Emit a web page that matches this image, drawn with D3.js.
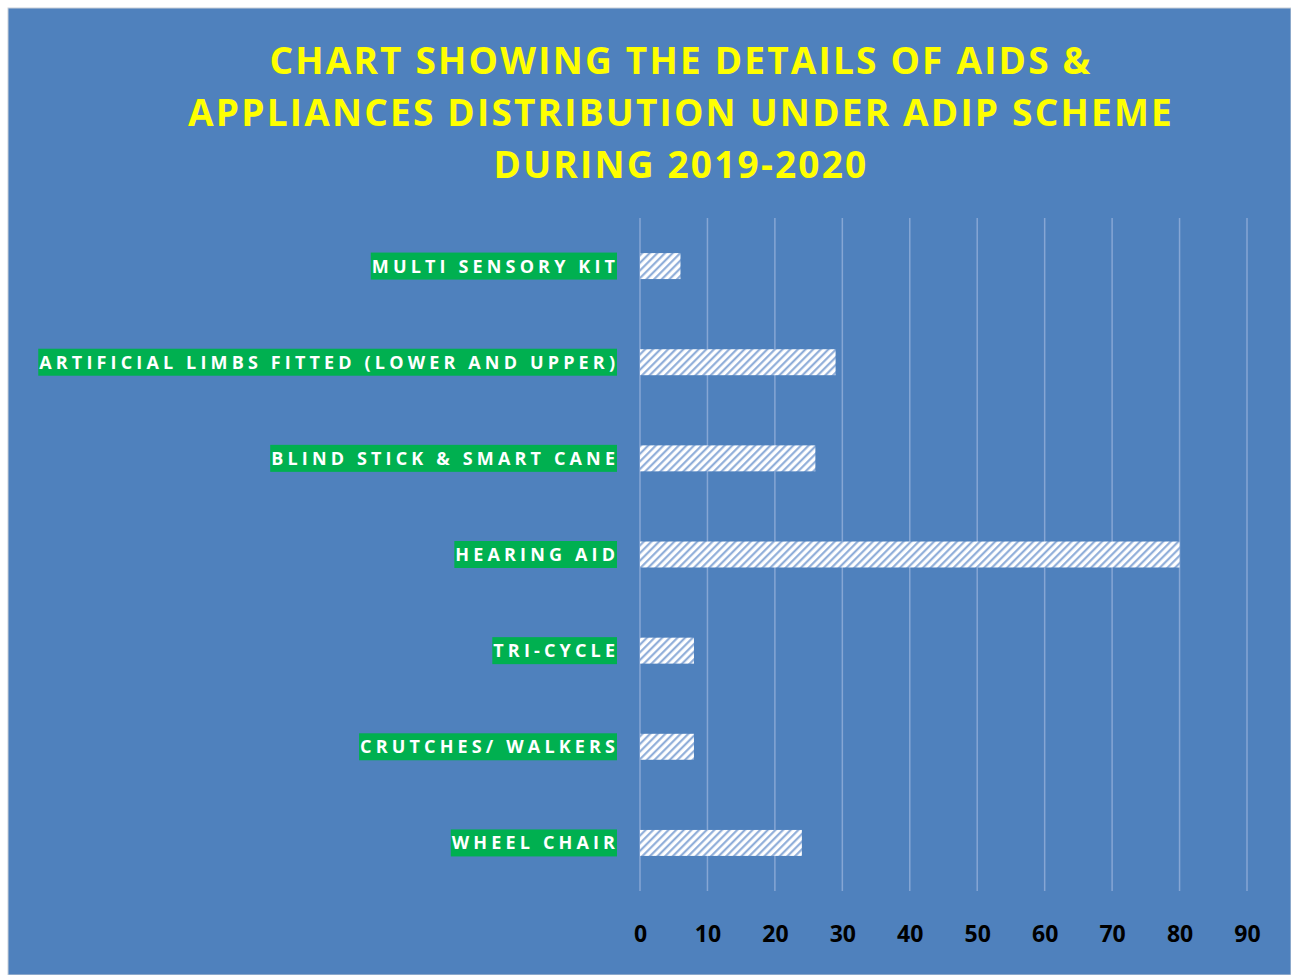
<!DOCTYPE html>
<html>
<head>
<meta charset="utf-8">
<script src="https://cdn.jsdelivr.net/npm/d3@7"></script>
<style>
  html, body { margin: 0; padding: 0; background: #ffffff; }
  svg { display: block; }
</style>
</head>
<body>
<svg id="chart" width="1291" height="975"></svg>
<script>
// ---- data ----
const categories = [
  "MULTI SENSORY KIT",
  "ARTIFICIAL LIMBS FITTED (LOWER AND UPPER)",
  "BLIND STICK & SMART CANE",
  "HEARING AID",
  "TRI-CYCLE",
  "CRUTCHES/ WALKERS",
  "WHEEL CHAIR"
];
const values = [6, 29, 26, 80, 8, 8, 24];
const tickValues = [0, 10, 20, 30, 40, 50, 60, 70, 80, 90];
const titleLines = [
  "CHART SHOWING THE DETAILS OF AIDS &",
  "APPLIANCES DISTRIBUTION UNDER ADIP SCHEME",
  "DURING 2019-2020"
];

// ---- layout ----
const svg = d3.select("#chart");
const W = 1291, H = 975;
const plot = { left: 640, right: 1247, top: 218, bottom: 891 };

svg.append("rect").attr("x", 0).attr("y", 0).attr("width", W).attr("height", H).attr("fill", "#ffffff");
svg.append("rect").attr("x", 8).attr("y", 8).attr("width", W - 8).attr("height", H - 8)
  .attr("fill", "#4F81BD").attr("stroke", "#c9cfd8").attr("stroke-width", 1);

// hatch pattern
const defs = svg.append("defs");
const pat = defs.append("pattern")
  .attr("id", "hatch").attr("patternUnits", "userSpaceOnUse")
  .attr("width", 5.4).attr("height", 5.4)
  .attr("patternTransform", "rotate(45)");
pat.append("rect").attr("width", 5.4).attr("height", 5.4).attr("fill", "#ffffff");
pat.append("line").attr("x1", 1.2).attr("y1", 0).attr("x2", 1.2).attr("y2", 5.4)
  .attr("stroke", "#86A7D6").attr("stroke-width", 2);

// title
const title = svg.append("g");
titleLines.forEach((t, i) => {
  title.append("text")
    .attr("x", 681).attr("y", 74 + i * 52)
    .attr("text-anchor", "middle")
    .attr("font-family", "'Open Sans', sans-serif")
    .attr("font-weight", 700)
    .attr("font-size", 37)
    .attr("letter-spacing", 2.2)
    .attr("fill", "#FFFF00")
    .text(t);
});

// scales
const x = d3.scaleLinear().domain([0, 90]).range([plot.left, plot.right]);
const y = d3.scaleBand().domain(categories).range([plot.top, plot.bottom])
  .paddingInner(0.73).paddingOuter(0.365);

// gridlines
svg.append("g").selectAll("line").data(tickValues).join("line")
  .attr("x1", d => x(d)).attr("x2", d => x(d))
  .attr("y1", plot.top).attr("y2", plot.bottom)
  .attr("stroke", "#86A6D4").attr("stroke-width", 1.5);

// x axis labels
const xAxis = d3.axisBottom(x).tickValues(tickValues).tickSize(0).tickPadding(0);
const gx = svg.append("g").attr("transform", `translate(0, ${plot.bottom})`).call(xAxis);
gx.select(".domain").remove();
gx.selectAll("text")
  .attr("y", 51).attr("dy", 0)
  .attr("font-family", "'Open Sans', sans-serif")
  .attr("font-weight", 700)
  .attr("font-size", 23)
  .attr("fill", "#000000");

// bars
svg.append("g").selectAll("rect").data(categories).join("rect")
  .attr("x", x(0))
  .attr("y", d => y(d))
  .attr("width", (d, i) => x(values[i]) - x(0))
  .attr("height", y.bandwidth())
  .attr("fill", "url(#hatch)");

// category labels with green boxes
const lab = svg.append("g").selectAll("g").data(categories).join("g");
const spacing = 4.15;
lab.each(function(d) {
  const g = d3.select(this);
  const cy = y(d) + y.bandwidth() / 2;
  const rect = g.append("rect").attr("fill", "#00B050");
  const txt = g.append("text")
    .attr("x", 615 + spacing).attr("y", cy)
    .attr("dy", "0.36em")
    .attr("text-anchor", "end")
    .attr("font-family", "'Open Sans', sans-serif")
    .attr("font-weight", 700)
    .attr("font-size", 18)
    .attr("letter-spacing", spacing)
    .attr("fill", "#ffffff")
    .text(d);
  const bb = txt.node().getBBox();
  rect.attr("x", bb.x - 1).attr("width", 617 - (bb.x - 1))
    .attr("y", cy - 13.5).attr("height", 27);
});
</script>
</body>
</html>
